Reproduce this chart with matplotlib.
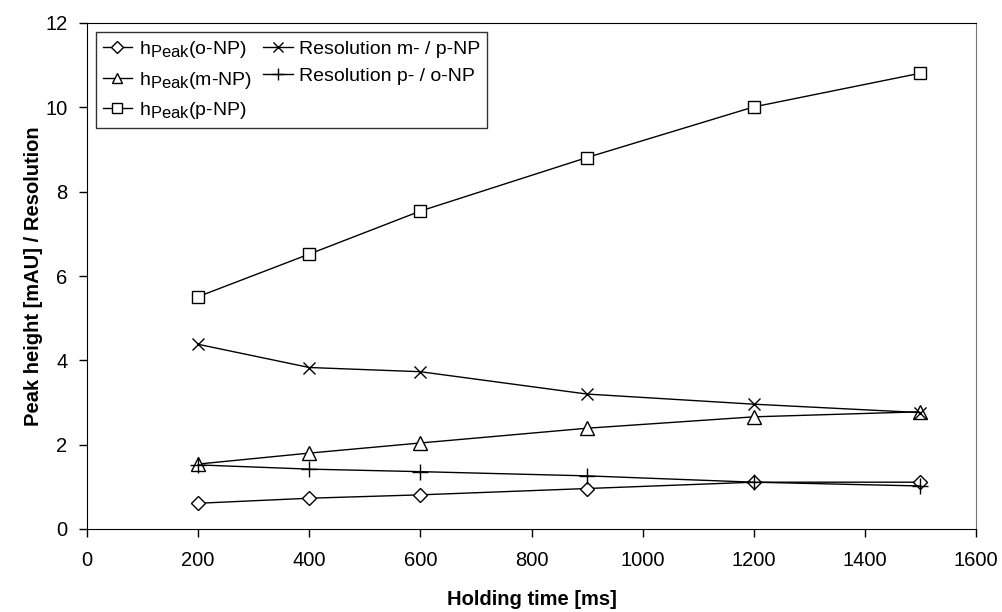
import numpy as np
import matplotlib
matplotlib.use('Agg')
import matplotlib.pyplot as plt
import matplotlib._mathtext as mt

plt.rcParams['font.family'] = ['Liberation Sans', 'DejaVu Sans']
plt.rcParams['mathtext.fontset'] = 'custom'
plt.rcParams['mathtext.rm'] = 'Liberation Sans'
plt.rcParams['mathtext.it'] = 'Liberation Sans'
mt.SHRINK_FACTOR = 0.85  # subindice "Peak" casi del mismo tamaño, como en el original

# data
tiempo = [200, 400, 600, 900, 1200, 1500]
h_oNP = [0.61, 0.73, 0.81, 0.96, 1.11, 1.11]
h_mNP = [1.54, 1.80, 2.04, 2.39, 2.66, 2.78]
h_pNP = [5.51, 6.52, 7.54, 8.81, 10.01, 10.81]
res_mp = [4.38, 3.83, 3.73, 3.20, 2.96, 2.76]
res_po = [1.52, 1.42, 1.36, 1.26, 1.11, 1.02]

etiquetas = [r'h$_{\mathrm{Peak}}$(o-NP)', r'h$_{\mathrm{Peak}}$(m-NP)',
             r'h$_{\mathrm{Peak}}$(p-NP)', 'Resolution m- / p-NP',
             'Resolution p- / o-NP']

fig = plt.figure(figsize=(10.02, 6.12), dpi=100)
ax = fig.add_axes([87/1002, 1 - 529/612, (976 - 87)/1002, (529 - 23)/612])

kw = dict(color='black', lw=1.0, mfc='white', mec='black', mew=1.0)
ax.plot(tiempo, h_oNP, marker='D', ms=7.5, label=etiquetas[0], **kw)
ax.plot(tiempo, h_mNP, marker='^', ms=9.5, label=etiquetas[1], **kw)
ax.plot(tiempo, h_pNP, marker='s', ms=9, label=etiquetas[2], **kw)
ax.plot(tiempo, res_mp, marker='x', ms=9, label=etiquetas[3], **kw)
ax.plot(tiempo, res_po, marker='+', ms=11, label=etiquetas[4], **kw)

ax.set_xlim(0, 1600)
ax.set_ylim(0, 12)
ax.set_xticks(np.arange(0, 1601, 200))
ax.set_yticks(np.arange(0, 13, 2))
ax.tick_params(direction='out', length=6, width=1, labelsize=14.5, pad=8)
ax.tick_params(axis='x', pad=10)
ax.spines['right'].set_color('#777777')
ax.spines['top'].set_color('black')

ax.set_xlabel('Holding time [ms]', fontsize=14.5, fontweight='bold', labelpad=14)
ax.set_ylabel('Peak height [mAU] / Resolution', fontsize=14.5, fontweight='bold', labelpad=2)

leg = ax.legend(ncol=2, loc='upper left', bbox_to_anchor=(9/889, 1 - 9/506),
                fontsize=14, frameon=True, fancybox=False, edgecolor='black',
                handlelength=1.5, handletextpad=0.35, columnspacing=0.6,
                labelspacing=0.5, borderpad=0.35, borderaxespad=0, markerscale=0.8)
leg.get_frame().set_linewidth(1.0)

fig.savefig('out.png', dpi=100)
